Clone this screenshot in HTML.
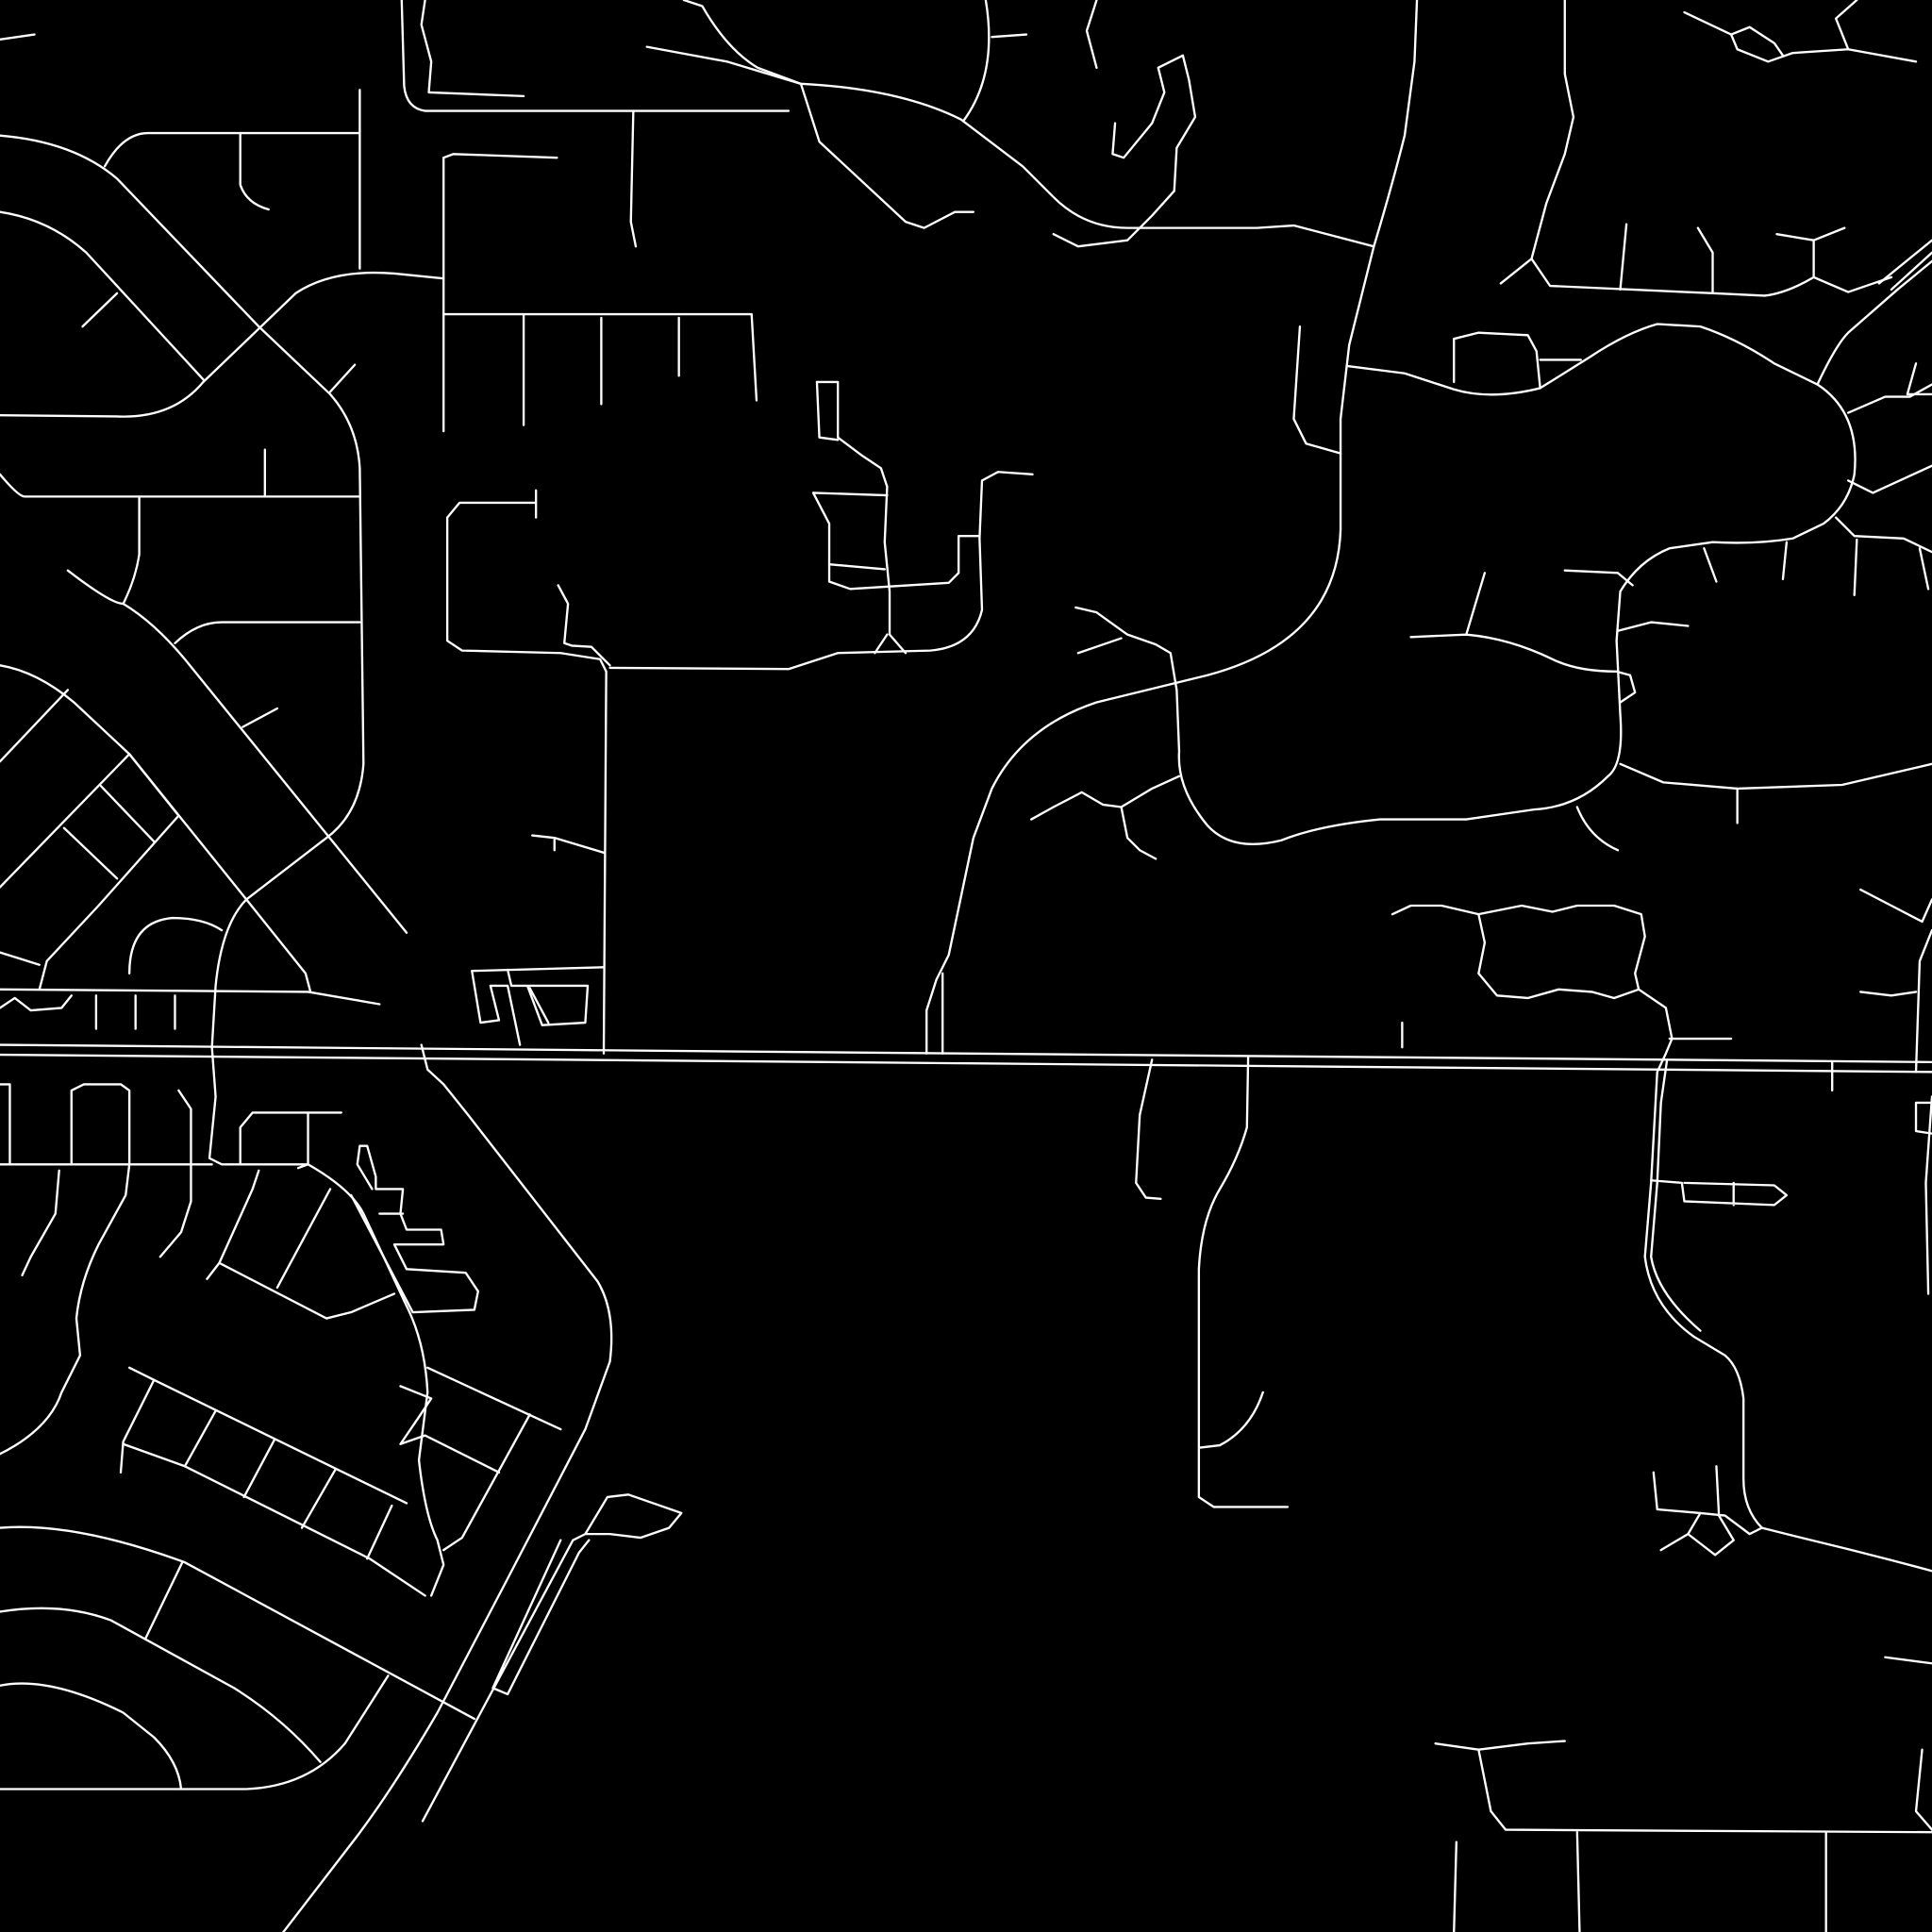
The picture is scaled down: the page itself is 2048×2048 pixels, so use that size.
<!DOCTYPE html>
<html><head><meta charset="utf-8"><style>
html,body{margin:0;padding:0;background:#000;width:2048px;height:2048px;overflow:hidden}
svg{display:block}
path{fill:none;stroke:#fff;stroke-width:1.8;stroke-linejoin:round;stroke-linecap:round}
</style></head><body>
<svg width="2048" height="2048" viewBox="0 0 1568 1568" xmlns="http://www.w3.org/2000/svg">
<path d="M0,848 L1568,862"/><path d="M0,856 L1568,870"/>
<path d="M0,32 L28,28"/>
<path d="M326,0 L328,70 Q330,88 345,90 L640,90"/>
<path d="M345,0 L342,20 L350,50 L348,75 L425,78"/>
<path d="M292,73 L292,218"/>
<path d="M0,110 Q60,115 95,145 L210,265"/>
<path d="M85,135 Q100,108 120,108 L292,108"/>
<path d="M195,108 L195,150 Q200,165 218,170"/>
<path d="M0,172 Q40,178 70,205 L165,308"/>
<path d="M0,337 L95,338 Q140,340 165,310 L240,238 Q270,218 320,222 L360,226"/>
<path d="M95,238 L67,265"/>
<path d="M210,265 L268,320 Q290,345 292,380 L295,620 Q292,660 265,680 L200,730 Q180,750 175,800 L172,850"/>
<path d="M268,318 L288,296"/>
<path d="M0,385 Q15,403 20,403 L292,403"/>
<path d="M215,365 L215,403"/>
<path d="M113,403 L113,450 Q110,470 100,490"/>
<path d="M55,463 Q90,490 100,490 Q125,505 150,535 L330,757"/>
<path d="M142,522 Q160,505 180,505 L292,505"/>
<path d="M105,612 L200,730 L248,790 L252,805"/>
<path d="M197,590 L225,575"/>
<path d="M0,540 Q30,545 60,570 L105,612 L145,662 L80,735 L38,780 L32,803"/>
<path d="M0,618 L55,560"/>
<path d="M0,720 L105,612"/>
<path d="M52,672 L95,713"/>
<path d="M82,638 L125,683"/>
<path d="M0,773 L32,783"/>
<path d="M0,803 L250,805 L308,815"/>
<path d="M0,818 L12,810 L25,820 L50,818 L58,808"/>
<path d="M78,808 L78,835 M110,808 L110,835 M142,808 L142,835"/>
<path d="M105,790 Q105,748 140,745 Q165,745 180,755"/>
<path d="M360,128 L368,125 L452,128 M360,128 L360,350"/>
<path d="M360,255 L610,255 L614,325 M425,255 L425,345 M488,258 L488,328 M551,258 L551,305"/>
<path d="M514,90 L512,180 L516,200"/>
<path d="M435,398 L435,420 M363,420 L373,408 L435,408 M363,420 L363,520 L375,528 L455,530 L487,535 L492,545 L490,855"/>
<path d="M453,475 L461,490 L458,522 L464,524 L480,525 L495,540"/>
<path d="M495,542 L640,543 L680,530 L755,528 Q790,525 797,495 L795,437 L797,390 L810,383 L838,385"/>
<path d="M663,310 L680,310 L680,355 L700,370 L715,380 L720,395 L718,440 L722,480 L722,515 L735,530"/>
<path d="M663,310 L665,355 L680,357"/>
<path d="M660,400 L720,402 M660,400 L673,425 L673,472 L690,478 L770,473 L778,465 L778,435 L795,435"/>
<path d="M673,458 L718,462 M720,515 L710,530"/>
<path d="M525,38 L590,50 L650,68 L665,115 L735,180 L750,185 L775,172 L790,172"/>
<path d="M555,0 L570,5 Q590,40 615,55 L650,68 Q730,72 780,97 L830,135 L855,160 Q880,185 915,185 L1020,185 L1050,183 L1115,200"/>
<path d="M800,0 Q810,60 782,98 M805,30 L833,28 M890,0 L882,25 L890,55"/>
<path d="M905,100 L903,125 L912,128 L935,100 L945,75 L940,55 L960,45 L965,65 L970,95 L955,120 L953,155 L935,175 L915,195 L875,200 L855,190"/>
<path d="M1150,0 L1148,50 L1140,110 Q1130,150 1115,200 L1095,280 L1088,340 L1088,430 Q1085,520 980,548 L890,570 Q830,590 805,640 L790,680 L770,775 L760,795 L752,820 L752,855"/>
<path d="M765,790 L765,855"/>
<path d="M1055,265 L1050,340 L1060,360 L1088,368"/>
<path d="M1093,297 L1140,303 L1180,316 Q1210,325 1250,315 L1290,290 Q1320,270 1345,263 L1380,265 Q1410,275 1440,295 L1475,312 Q1510,335 1505,385 Q1500,410 1480,425 L1455,437 Q1425,442 1390,440 L1355,445 Q1330,455 1315,480 L1312,520 L1315,580 Q1318,620 1305,630 Q1280,655 1245,657 L1190,665 L1120,665 Q1070,670 1040,682 Q1000,692 980,670 Q955,640 957,610 L955,560 L950,530 L938,523 L915,515 L890,497 L873,493"/>
<path d="M1500,390 L1520,400 L1568,378 M1490,420 L1505,435 L1545,437 L1568,448"/>
<path d="M1475,312 Q1490,280 1500,270 L1540,235 L1568,212"/>
<path d="M1500,335 L1530,322 L1550,322 L1568,312 M1555,295 L1548,320 L1568,320"/>
<path d="M1525,230 L1568,195 M1535,235 L1568,205"/>
<path d="M1270,0 Q1270,30 1270,60 L1277,95 L1270,125 L1255,165 L1243,210 L1218,230 M1243,210 L1258,232 L1390,238 L1432,240 Q1450,238 1472,225 L1500,237 L1535,225"/>
<path d="M1320,182 L1315,235 M1378,185 L1390,205 L1390,238 M1442,190 L1472,195 L1497,185 M1472,195 L1472,225"/>
<path d="M1367,10 L1405,28 L1410,40 L1435,50 L1455,43 L1500,40 L1555,50 M1405,28 L1420,22 L1440,35 L1447,45 M1500,40 L1490,15 L1507,0"/>
<path d="M1180,310 L1180,275 L1200,270 L1240,272 L1247,285 L1250,315 M1250,292 L1283,292"/>
<path d="M1383,445 L1393,472 M1450,440 L1447,470 M1507,438 L1505,483 M1558,445 L1565,478"/>
<path d="M1270,463 L1313,465 L1325,475"/>
<path d="M1205,465 L1190,515 M1145,517 L1190,515 Q1225,518 1260,535 Q1280,545 1312,545 L1323,548 L1327,562 L1315,570"/>
<path d="M1313,512 L1340,505 L1370,508"/>
<path d="M1315,620 L1350,635 L1410,640 L1495,637 L1568,620 M1410,640 L1410,668"/>
<path d="M1280,655 Q1290,680 1313,690"/>
<path d="M875,530 L910,518"/>
<path d="M837,665 L855,655 L878,643 L895,653 L910,655 L935,640 L957,630 M910,655 L915,680 L925,690 L938,697"/>
<path d="M1130,742 L1145,735 L1170,735 L1200,742 L1235,735 L1260,740 L1280,735 L1310,735 L1332,742 L1335,760 L1327,790 L1330,803 L1352,818 L1357,843 L1352,855 L1345,870 L1340,960 L1335,1020 Q1340,1060 1375,1085 L1400,1100 Q1412,1110 1415,1135 L1415,1200 Q1415,1225 1430,1240 L1470,1250 Q1520,1262 1568,1275"/>
<path d="M1353,860 L1348,895 L1345,960 L1340,1020 Q1345,1050 1380,1080"/>
<path d="M1200,742 L1205,765 L1200,790 L1215,808 L1240,810 L1265,803 L1292,805 L1310,810 L1330,803"/>
<path d="M1355,843 L1405,843"/>
<path d="M1510,722 L1535,735 L1560,748 L1568,730 M1510,805 L1535,808 L1555,805 M1568,755 L1558,780 L1555,870"/>
<path d="M1138,830 L1138,850 M1487,862 L1487,885 M1555,895 L1568,895 M1555,895 L1555,918 L1568,920"/>
<path d="M1568,890 L1563,960 L1565,1050"/>
<path d="M342,848 L347,868 L360,880 L380,905 L485,1040 Q500,1065 495,1105 L475,1160 L410,1285 L355,1390 Q320,1450 290,1490 L230,1568"/>
<path d="M935,860 L925,905 L922,960 L930,972 L942,973"/>
<path d="M1013,858 L1012,915 Q1005,940 990,965 Q975,990 973,1030 L973,1215 L985,1223 L1045,1223 M973,1175 L990,1173 Q1015,1160 1025,1130"/>
<path d="M1340,958 L1365,960 L1367,975 L1440,978 L1450,970 L1440,962 L1367,960 M1407,960 L1407,978"/>
<path d="M1342,1195 L1345,1225 L1380,1228 L1400,1230 L1420,1245 L1430,1240 M1380,1228 L1370,1245 L1392,1262 L1407,1250 L1395,1230 M1348,1258 L1370,1245 M1393,1190 L1395,1228"/>
<path d="M1165,1415 L1200,1420 L1210,1470 L1222,1485 L1568,1487 M1200,1420 L1240,1415 L1270,1413"/>
<path d="M1280,1487 L1282,1568 M1482,1487 L1482,1568 M1182,1495 L1180,1568 M1530,1345 L1568,1350 M1560,1420 L1555,1470 L1568,1485"/>
<path d="M0,880 L8,880 L8,945 M0,945 L172,945 M58,945 L58,885 L68,880 L98,880 L105,885 L105,945"/>
<path d="M105,945 L102,970 L80,1010 Q65,1040 62,1070 L65,1100 L50,1130 Q40,1160 0,1180"/>
<path d="M48,950 L45,985 L25,1020 L18,1035"/>
<path d="M145,885 L155,900 L155,975 L147,1000 L130,1020"/>
<path d="M172,850 L175,890 L170,940 L180,945 L195,945 L195,915 L205,903 L277,903 M250,903 L250,945 L242,948"/>
<path d="M195,945 L250,945 Q285,965 295,985 L330,1060 Q345,1090 347,1130 L340,1185 Q345,1230 355,1250 L360,1270 L350,1295"/>
<path d="M210,950 L205,965 L178,1025 L168,1038 M178,1025 L265,1070 L285,1065 L320,1050 M268,965 L225,1045"/>
<path d="M285,970 L335,1065 L385,1063 L388,1048 L378,1033 L330,1030 L320,1010 L360,1010 L358,998 L330,998 L325,985 L327,965 L305,965 L305,955 L298,930 L292,930 L290,945 L302,965 M308,985 L327,985"/>
<path d="M105,1110 L125,1120 L330,1220 M347,1110 L455,1160 M325,1125 L350,1135 L340,1150 L325,1172 L345,1165 L405,1195"/>
<path d="M125,1120 L100,1170 L98,1195 M100,1172 L150,1190 L200,1215 L250,1240 L300,1265 L345,1295"/>
<path d="M175,1145 L150,1190 M223,1168 L198,1215 M272,1193 L245,1240 M318,1222 L298,1265"/>
<path d="M430,1148 L375,1248 L360,1258"/>
<path d="M0,1240 Q60,1235 150,1268 L385,1395 M148,1268 L118,1330"/>
<path d="M0,1308 Q50,1300 90,1315 L190,1370 Q230,1395 260,1430"/>
<path d="M0,1368 Q40,1360 100,1390 L125,1410 Q145,1430 147,1452"/>
<path d="M0,1452 L200,1452 Q250,1450 280,1415 L315,1360"/>
<path d="M455,1250 L400,1370 L412,1375 L470,1260 L478,1250 M475,1245 L495,1245 L520,1248 L543,1240 L553,1228 L510,1213 L493,1215 L475,1245 L465,1250 L343,1478"/>
<path d="M432,678 L450,680 L490,692 M450,680 L450,690"/>
<path d="M383,788 L490,785 M383,788 L390,830 L405,828 L398,800 L412,800 L422,848 M412,787 L415,800 L428,800 L440,832 L475,830 L477,800 L428,800 M430,802 L445,830"/>
</svg>
</body></html>
